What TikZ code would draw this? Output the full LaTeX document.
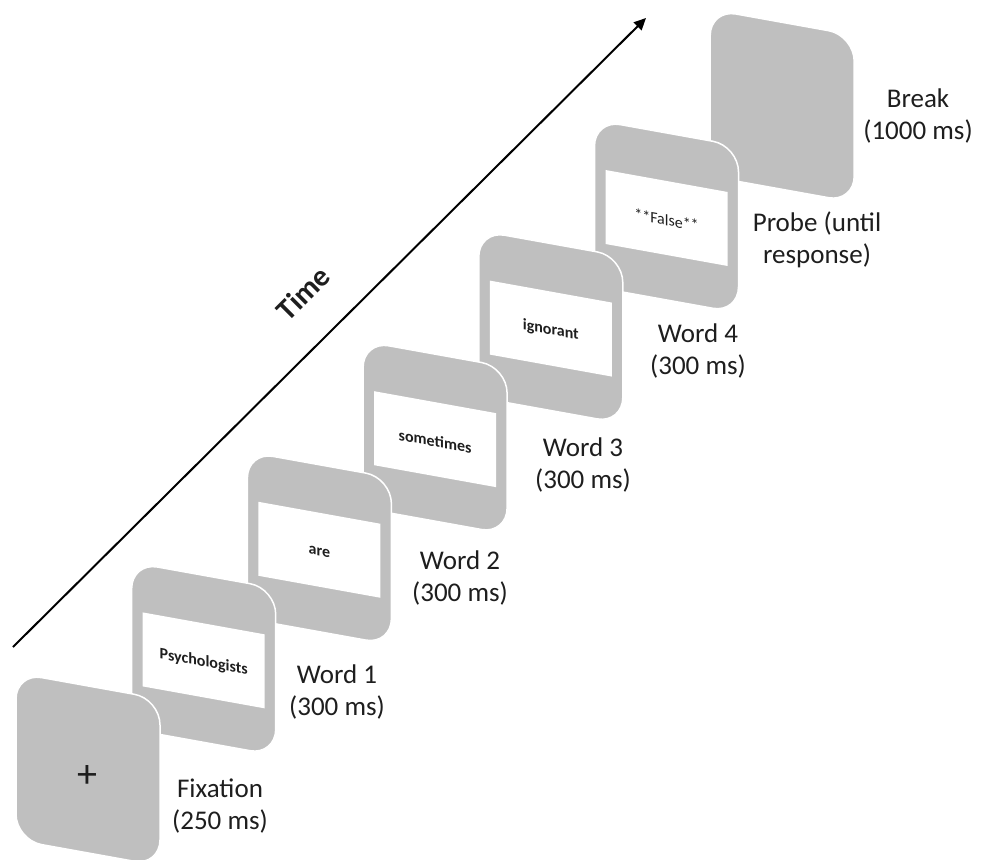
\documentclass[tikz,border=0pt]{standalone}
\usepackage{fontspec}
\setmainfont{Carlito}
\usetikzlibrary{arrows.meta}
\definecolor{cardgray}{RGB}{191,191,191}
\definecolor{ink}{RGB}{30,30,30}
\newcommand\cardbody[1]{%
  \pgfmathsetmacro\cL{16+115.7*#1}%
  \pgfmathsetmacro\cT{673-110.6*#1}%
  \draw[card] (\cL,\cT) -- ++(144,25.9) -- ++(0,167) -- ++(-144,-25.9) -- cycle;%
}
\newcommand\cardscreen[3]{%
  \fill[white] (\cL+11,\cT+50) -- ++(122,21.96) -- ++(0,74) -- ++(-122,-21.96) -- cycle;%
  \begin{scope}[shift={(\cL+72,\cT+100)}]
    \node[word] (#2) at (0,0) {#3};
  \end{scope}%
}
\begin{document}
\begin{tikzpicture}[x=0.5pt,y=-0.5pt,
  card/.style={fill=cardgray,draw=white,line width=0.75pt,rounded corners=13pt},
  word/.style={font=\fontsize{8}{9}\selectfont\bfseries,text=ink,yslant=-0.18,inner sep=0pt},
  lbl/.style={font=\fontsize{13.5}{16}\selectfont,align=center,text=ink,inner sep=0pt}]
\useasboundingbox (0,0) rectangle (989,860);

% arrow
\coordinate (tstart) at (13,647);
\coordinate (tend) at (646,18);
\draw[line width=1pt,-{Triangle[length=6pt,width=5.5pt]}] (tstart) -- (tend);
\node[font=\fontsize{15}{18}\selectfont\bfseries,rotate=45,text=ink] (time) at (303,293) {Time};

% cards, back to front
\cardbody{6}
\cardbody{5}\cardscreen{5}{probe}{\mdseries **False**}
\cardbody{4}\cardscreen{4}{w4}{ignorant}
\cardbody{3}\cardscreen{3}{w3}{sometimes}
\cardbody{2}\cardscreen{2}{w2}{are}
\cardbody{1}\cardscreen{1}{w1}{Psychologists}
\cardbody{0}
\node[font=\fontsize{20}{22}\selectfont,text=ink,inner sep=0pt] (plus) at (87,776) {+};

% labels
\node[lbl] (lfix) at (220,806) {Fixation\\(250 ms)};
\node[lbl] (lw1) at (337,692) {Word 1\\(300 ms)};
\node[lbl] (lw2) at (460,578) {Word 2\\(300 ms)};
\node[lbl] (lw3) at (583,465) {Word 3\\(300 ms)};
\node[lbl] (lw4) at (698,351) {Word 4\\(300 ms)};
\node[lbl] (lprobe) at (817,240) {Probe (until\\response)};
\node[lbl] (lbreak) at (918,116) {Break\\(1000 ms)};
\end{tikzpicture}
\end{document}
